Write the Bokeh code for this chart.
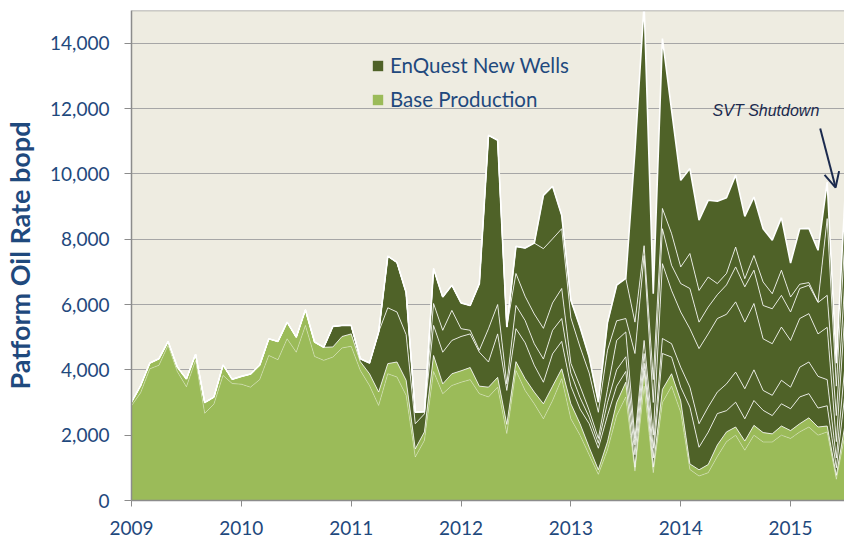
import numpy as np
import pandas as pd
from bokeh.plotting import figure
from bokeh.models import (Range1d, FixedTicker, NumeralTickFormatter, Legend, LegendItem,
                          Label, Arrow, OpenHead, Span, ColumnDataSource)
from bokeh.embed import file_html
from bokeh.resources import INLINE

# ---------------- data (monthly, Jan 2009 .. Jul 2015) ----------------
months = pd.date_range("2009-01-01", periods=79, freq="MS")

# Base production, lower (core) part and total base (bopd)
base_core = [2900, 3300, 4030, 4140, 4750, 3950, 3480, 4290, 2670, 2950, 3830, 3580,
             3560, 3470, 3700, 4440, 4310, 4950, 4540, 5360, 4410, 4290, 4390, 4670,
             4720, 3980, 3520, 2910, 3880, 3780, 3220, 1330, 1840, 3950, 3270, 3520,
             3620, 3700, 3270, 3170, 3470, 2050, 3980, 3370, 2960, 2500, 3060, 3730,
             2500, 2000, 1400, 800, 1550, 2600, 3170, 900, 3500, 850, 3000, 3500,
             2700, 950, 750, 850, 1350, 1800, 2000, 1540, 2000, 1790, 1790, 2000,
             1900, 2100, 2250, 2000, 2100, 650, 2100]
base_total = [3010, 3520, 4210, 4340, 4870, 4090, 3720, 4480, 3000, 3165, 4150, 3710,
              3800, 3870, 4140, 4950, 4870, 5460, 5000, 5840, 4850, 4690, 4700, 5020,
              5100, 4250, 3880, 3320, 4190, 4240, 3680, 1580, 2100, 4440, 3570, 3880,
              3970, 4070, 3500, 3470, 3770, 2330, 4250, 3730, 3320, 2960, 3500, 4030,
              2960, 2350, 1630, 940, 1800, 3000, 3620, 1020, 3980, 1020, 3400, 3880,
              3050, 1120, 940, 1100, 1700, 2100, 2250, 1820, 2300, 2080, 2040, 2280,
              2140, 2350, 2530, 2250, 2280, 770, 2400]

# EnQuest new wells: cumulative rate at the top of each well group (None = not yet on line)
wells_top_1 = [None] * 28 + [5900, 5770, 5080, 2350, 2650, 5360, 4540, 4900, 5020, 5100,
                             4540, 4240, 5100, 3370, 5260, 4830, 4140, 3620, 4490, 4870,
                             3500, 2800, 2350, 1600, 2600, 3500, 3950, 1400, 4200, 1300,
                             4500, 4390, 3470, 2860, 1630, 2090, 2660, 2750, 3010, 2500,
                             3060, 2760, 2600, 2960, 2810, 3170, 3270, 2830, 2900, 1000, 3400]
wells_top_2 = [None] * 33 + [6030, 5210, 5820, 5260, 5210, 4600, 5260, 6000, 3570, 5970,
                             5510, 4800, 4330, 5210, 5570, 3900, 3150, 2550, 1750, 3000,
                             4000, 4400, 1700, 4500, 1600, 4960, 4800, 4080, 3470, 2350,
                             2860, 3320, 3570, 3930, 3420, 4000, 3370, 3220, 3680, 3470,
                             4080, 4240, 3800, 3700, 1300, 4300]
wells_top_3 = [None] * 42 + [6950, 6250, 5710, 5270, 6050, 6490, 4200, 3500, 2760, 1900,
                             3400, 4900, 5160, 1900, 4900, 2000, 7250, 6430, 5770, 5260,
                             4650, 5100, 5570, 5700, 6080, 5460, 6030, 4950, 4800, 5310,
                             4900, 5570, 5720, 5100, 5300, 1800, 6000]
wells_top_4 = [None] * 45 + [7710, 8010, 8320, 5590, 4700, 3900, 2700, 4600, 5500, 5570,
                             4500, 7500, 3000, 8320, 7200, 6640, 6490, 5460, 5920, 6300,
                             6600, 7150, 6540, 7050, 5970, 5870, 6280, 5770, 6490, 6590,
                             6060, 6280, 2600, 7000]
wells_top_5 = [None] * 55 + [5460, 7800, 3700, 8940, 8170, 7150, 7560, 6430, 6840, 6640,
                             6950, 7760, 6790, 7500, 6690, 6330, 7050, 6230, 6620, 6670,
                             6080, 8630, 3500, 8300]
total_top = [None] * 21 + [4690, 5330, 5360, 5360, 4340, 4210, 5160, 7480, 7290, 6370,
                           2700, 2720, 7100, 6230, 6590, 6050, 5970, 6640, 11180, 11030,
                           5310, 7780, 7730, 7880, 9340, 9620, 8730, 6130, 5310, 4390,
                           3010, 5450, 6590, 6800, 10700, 15200, 6330, 14140, 11950, 9800,
                           10160, 8580, 9190, 9160, 9270, 9960, 8700, 9290, 8320, 7970,
                           8660, 7270, 8320, 8330, 7660, 9750, 4200, 9600]

year_ticks = [2009, 2010, 2011, 2012, 2013, 2014, 2015]
y_ticks = [0, 2000, 4000, 6000, 8000, 10000, 12000, 14000]

# ---------------- derived levels ----------------
x = 2009 + (months.year - 2009) + (months.month - 1) / 12.0
core = np.array(base_core, float)
base = np.array(base_total, float)
top = np.array([b if t is None else t for t, b in zip(total_top, base_total)], float)
eff = top.copy()
tops = []
for arr in [wells_top_5, wells_top_4, wells_top_3, wells_top_2, wells_top_1]:
    eff = np.array([e if v is None else v for v, e in zip(arr, eff)], float)
    tops.append(eff)
tops = tops[::-1]  # well 1 .. well 5
levels = [np.zeros(len(x)), core, base] + tops + [top]

LIGHT = "#9BBB59"
DARK = "#4F6228"
BLUE = "#1F497D"
FONT = "Lato"

p = figure(width=844, height=541, output_backend="svg", toolbar_location=None,
           x_range=Range1d(2009, 2015.491), y_range=Range1d(0, 15000),
           min_border_left=130, min_border_right=0, min_border_top=10, min_border_bottom=41)
p.background_fill_color = "#EEECE1"
p.border_fill_color = "white"
p.outline_line_color = None

src = ColumnDataSource({"x": x, **{f"l{k}": lv for k, lv in enumerate(levels)}})

renderers = []
for k in range(1, len(levels)):
    color = LIGHT if k <= 2 else DARK
    r = p.varea(x="x", y1=f"l{k-1}", y2=f"l{k}", source=src, fill_color=color)
    renderers.append(r)

# separator lines
p.line("x", "l1", source=src, line_color="white", line_alpha=0.35, line_width=1)
for k in range(2, len(levels) - 1):
    p.line("x", f"l{k}", source=src, line_color="white", line_alpha=0.8, line_width=1)
p.line("x", f"l{len(levels)-1}", source=src, line_color="white", line_width=1.6)

p.add_layout(Span(location=15000, dimension="width", line_color="#A0A0A0", line_width=1.5))

# axes
p.xaxis.ticker = FixedTicker(ticks=year_ticks)
p.yaxis.ticker = FixedTicker(ticks=y_ticks)
p.yaxis.formatter = NumeralTickFormatter(format="0,0")
for ax in [p.xaxis[0], p.yaxis[0]]:
    ax.axis_line_color = "#8C8C8C"
    ax.axis_line_width = 1.5
    ax.major_tick_line_color = "#8C8C8C"
    ax.major_tick_in = 0
    ax.minor_tick_line_color = None
    ax.major_label_text_font = FONT
    ax.major_label_text_font_size = "19px"
    ax.major_label_text_color = BLUE
p.xaxis.major_tick_out = 6
p.xaxis.major_label_standoff = 14
p.yaxis.major_tick_out = 7
p.yaxis.major_label_standoff = 15
p.yaxis.axis_label = "Patform Oil Rate bopd"
p.yaxis.axis_label_text_font = FONT
p.yaxis.axis_label_text_font_style = "bold"
p.yaxis.axis_label_text_font_size = "27px"
p.yaxis.axis_label_text_color = BLUE
p.yaxis.axis_label_standoff = 11
p.xgrid.grid_line_color = None
p.ygrid.grid_line_color = "#A6A6A6"
p.ygrid.grid_line_width = 1

# legend
legend = Legend(items=[LegendItem(label="EnQuest New Wells", renderers=[renderers[-1]]),
                       LegendItem(label="Base Production", renderers=[renderers[0]])],
                location=(240, 389), orientation="vertical", padding=0, margin=0,
                spacing=10, glyph_width=13, glyph_height=13, label_standoff=6,
                label_text_font=FONT, label_text_font_size="20.5px", label_text_color=BLUE,
                background_fill_alpha=0, border_line_color=None)
p.add_layout(legend, "center")

# annotation
p.add_layout(Label(x=2014.29, y=11950, text="SVT Shutdown", text_font="Liberation Sans",
                   text_font_style="italic", text_font_size="16px", text_color="#1B2A4E",
                   text_baseline="middle"))
p.add_layout(Arrow(x_start=2015.27, y_start=11390, x_end=2015.41, y_end=9580,
                   line_color="#1B2A4E", line_width=2,
                   end=OpenHead(size=15, line_color="#1B2A4E", line_width=2)))

open("out.html", "w").write(file_html(p, INLINE))
